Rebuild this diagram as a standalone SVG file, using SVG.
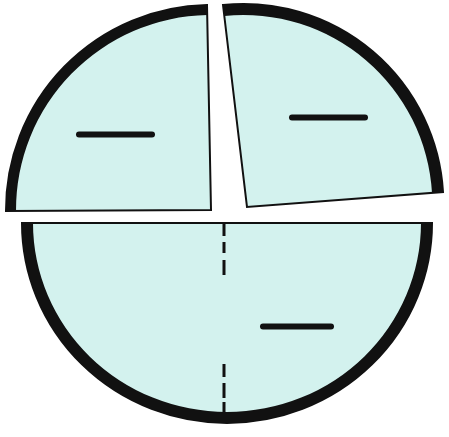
<svg xmlns="http://www.w3.org/2000/svg" width="449" height="437" viewBox="0 0 449 437">
  <style>
    .piece { fill: #d3f2ee; stroke: #111; stroke-width: 2; stroke-linejoin: miter; }
    .rim { fill: #111; stroke: none; }
    .minus { stroke: #111; stroke-width: 6; stroke-linecap: round; fill: none; }
    .cut { stroke: #111; stroke-width: 3; fill: none; }
  </style>
  <rect width="449" height="437" fill="#ffffff"/>

  <g id="piece-top-left">
    <path class="piece" d="M 211,210 L 207,5 A 205 205 0 0 0 6,211 Z"/>
    <path class="rim" d="M 6,211 A 205 205 0 0 1 207,5 L 207.2,15 A 195 195 0 0 0 16,211 Z"/>
    <line class="minus" x1="79" y1="134.5" x2="152" y2="134.5"/>
  </g>

  <g id="piece-top-right">
    <path class="piece" d="M 247,207 L 223,5 A 200 200 0 0 1 443,192 Z"/>
    <path class="rim" d="M 223,5 A 200 200 0 0 1 443,192 L 432,193 A 189 189 0 0 0 224.3,16 Z"/>
    <line class="minus" x1="292" y1="117.5" x2="365" y2="117.5"/>
  </g>

  <g id="piece-bottom">
    <path class="piece" d="M 22,223 L 432,223 A 205 200 0 0 1 22,223 Z" stroke-width="3"/>
    <path class="rim" d="M 432,223 A 205 200 0 0 1 22,223 L 33,223 A 194 189 0 0 0 421,223 Z"/>
    <path class="cut" d="M 224,223 V 236 M 224,242 V 253 M 224,260 V 275 M 224,364 V 377 M 224,383 V 398 M 224,402 V 414"/>
    <line class="minus" x1="263" y1="326.5" x2="331" y2="326.5"/>
  </g>
</svg>
